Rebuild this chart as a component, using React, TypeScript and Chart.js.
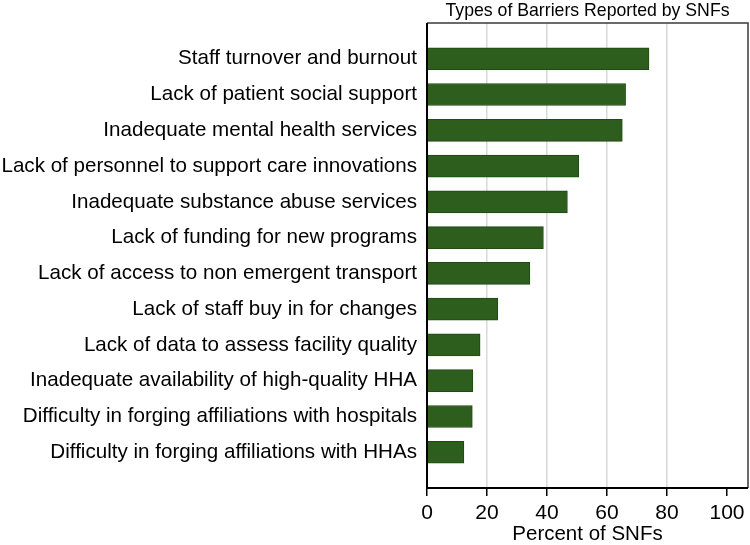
import React, { useEffect, useRef } from "react";
import { Chart, registerables } from "chart.js";

Chart.register(...registerables);

const categories = [
  "Staff turnover and burnout",
  "Lack of patient social support",
  "Inadequate mental health services",
  "Lack of personnel to support care innovations",
  "Inadequate substance abuse services",
  "Lack of funding for new programs",
  "Lack of access to non emergent transport",
  "Lack of staff buy in for changes",
  "Lack of data to assess facility quality",
  "Inadequate availability of high-quality HHA",
  "Difficulty in forging affiliations with hospitals",
  "Difficulty in forging affiliations with HHAs",
];
const percents = [74.0, 66.2, 65.1, 50.6, 46.8, 38.8, 34.3, 23.6, 17.7, 15.3, 15.1, 12.3];
const xTicks = [0, 20, 40, 60, 80, 100];
const titleText = "Types of Barriers Reported by SNFs";
const xTitle = "Percent of SNFs";

const FONT = "'Liberation Sans', Arial, Helvetica, sans-serif";

export default function App() {
  const ref = useRef<HTMLCanvasElement>(null);
  useEffect(() => {
    if (!ref.current) return;
    const labels = ["", ...categories, ""];
    const data = [null, ...percents, null];
    const framePlugin = {
      id: "frame",
      afterDatasetsDraw(chart: any) {
        const { ctx, chartArea: a } = chart;
        ctx.save();
        ctx.strokeStyle = "#3a3a3a";
        ctx.lineWidth = 1.5;
        ctx.beginPath();
        ctx.moveTo(a.left, a.top);
        ctx.lineTo(a.right, a.top);
        ctx.lineTo(a.right, a.bottom);
        ctx.stroke();
        ctx.strokeStyle = "#000";
        ctx.lineWidth = 2;
        ctx.beginPath();
        ctx.moveTo(a.left, a.top);
        ctx.lineTo(a.left, a.bottom);
        ctx.lineTo(a.right, a.bottom);
        ctx.stroke();
        ctx.fillStyle = "#000";
        ctx.font = `17.7px ${FONT}`;
        ctx.textAlign = "center";
        ctx.textBaseline = "alphabetic";
        ctx.fillText(titleText, (a.left + a.right) / 2, a.top - 7);
        ctx.restore();
      },
    };
    const chart = new Chart(ref.current, {
      type: "bar",
      data: {
        labels,
        datasets: [
          {
            data,
            backgroundColor: "#2d5e1d",
            borderColor: "#1f4a12",
            borderWidth: 1,
            barThickness: 22,
          },
        ],
      },
      options: {
        indexAxis: "y",
        responsive: false,
        animation: false,
        layout: { padding: { top: 23, right: 2, left: 0, bottom: 0 } },
        plugins: {
          legend: { display: false },
          tooltip: { enabled: false },
          title: { display: false },
        },
        scales: {
          y: {
            type: "category",
            offset: false,
            grid: { display: false, drawTicks: false },
            border: { display: false },
            ticks: {
              color: "#000",
              font: { size: 20.6, family: FONT },
              padding: 10,
              autoSkip: false,
            },
            afterFit(scale: any) {
              scale.width = 427;
            },
          },
          x: {
            type: "linear",
            min: 0,
            max: 107,
            afterBuildTicks(scale: any) {
              scale.ticks = xTicks.map((v) => ({ value: v }));
            },
            grid: {
              color: (ctx: any) =>
                ctx.tick && ctx.tick.value > 0 && ctx.tick.value < 100 ? "#d8d8d8" : "rgba(0,0,0,0)",
              lineWidth: 1.5,
              tickColor: "#000",
              tickLength: 8,
              tickWidth: 1.5,
            },
            border: { display: false },
            ticks: {
              color: "#000",
              font: { size: 21, family: FONT },
              padding: 5,
            },
            title: {
              display: true,
              text: xTitle,
              color: "#000",
              font: { size: 20.5, family: FONT, lineHeight: 1.0 },
              padding: { top: 0, bottom: 0 },
            },
            afterFit(scale: any) {
              scale.height = 57;
            },
          },
        },
      },
      plugins: [framePlugin],
    });
    return () => chart.destroy();
  }, []);
  return (
    <div style={{ position: "absolute", left: 0, top: 0, width: 750, height: 545, background: "#fff" }}>
      <canvas ref={ref} width={750} height={545} style={{ display: "block" }} />
    </div>
  );
}
